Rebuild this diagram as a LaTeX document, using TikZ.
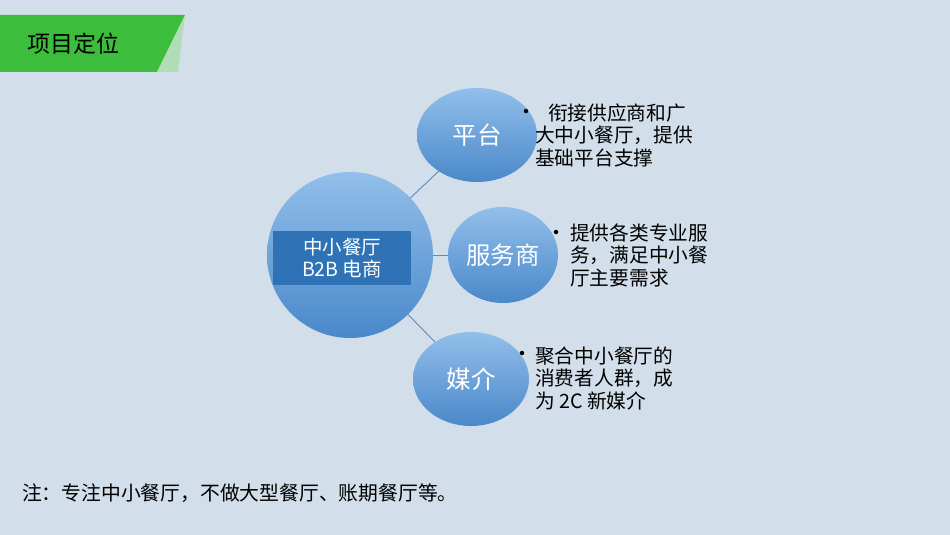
\documentclass[tikz,border=0pt]{standalone}
\usepackage{fontspec}
\setmainfont{Noto Sans CJK SC}
\usetikzlibrary{shapes.geometric}
\definecolor{bg}{HTML}{D2DEE9}
\definecolor{bannergreen}{HTML}{3CBE3C}
\definecolor{lightgreen}{HTML}{A8DDA8}
\definecolor{ctop}{HTML}{92BFEA}
\definecolor{cbot}{HTML}{4A88CA}
\definecolor{rectblue}{HTML}{2F73B6}
\definecolor{linkblue}{HTML}{5A8CC0}
\tikzset{
  bubble/.style={ellipse, inner sep=0pt, top color=ctop, bottom color=cbot, text=white},
  bubtext/.style={font=\fontsize{24.5}{28}\selectfont},
  desc/.style={anchor=west, align=left, inner sep=0pt, font=\fontsize{19.7}{22.5}\selectfont, text=black},
  link/.style={draw=linkblue, line width=0.9pt},
  dot/.style={circle, fill=black, inner sep=0pt, minimum size=4.5pt}
}
\begin{document}
\begin{tikzpicture}[x=1pt,y=-1pt]
\fill[bg] (0,0) rectangle (950,535);
\useasboundingbox (0,0) rectangle (950,535);
% banner
\fill[bannergreen] (0,15) -- (185,15) -- (157,72) -- (0,72) -- cycle;
\fill[lightgreen, opacity=0.8] (185,15) -- (157,72) -- (178,72) -- cycle;
\node[anchor=west, inner sep=0pt, font=\fontsize{23}{26}\selectfont] (title) at (27,44) {项目定位};
% central circle
\node[bubble, minimum width=166pt, minimum height=166pt] (hub) at (350,255) {};
\node[fill=rectblue, minimum width=138pt, minimum height=54pt, inner sep=0pt, align=center, text=white, font=\fontsize{19.5}{22}\selectfont] (hubtext) at (342,258) {中小餐厅\\B2B 电商};
% satellites
\node[bubble, bubtext, minimum width=120pt, minimum height=94pt] (pt) at (477,135) {平台};
\node[bubble, bubtext, minimum width=110pt, minimum height=96pt] (fws) at (503,255) {服务商};
\node[bubble, bubtext, minimum width=116pt, minimum height=94pt] (mj) at (471,379) {媒介};
% connectors
\draw[link] (hub) -- (pt);
\draw[link] (hub) -- (fws);
\draw[link] (hub) -- (mj);
% bullets
\node[dot] (d1) at (526,111) {};
\node[desc] (t1) at (535,135) {\hspace{0.65em}衔接供应商和广\\大中小餐厅，提供\\基础平台支撑};
\node[dot] (d2) at (556,232) {};
\node[desc] (t2) at (570,255) {提供各类专业服\\务，满足中小餐\\厅主要需求};
\node[dot] (d3) at (522,353) {};
\node[desc] (t3) at (535,378) {聚合中小餐厅的\\消费者人群，成\\为 2C 新媒介};
% note
\node[anchor=west, inner sep=0pt, font=\fontsize{19.8}{22}\selectfont] (note) at (22,493) {注：专注中小餐厅，不做大型餐厅、账期餐厅等。};
\end{tikzpicture}
\end{document}
